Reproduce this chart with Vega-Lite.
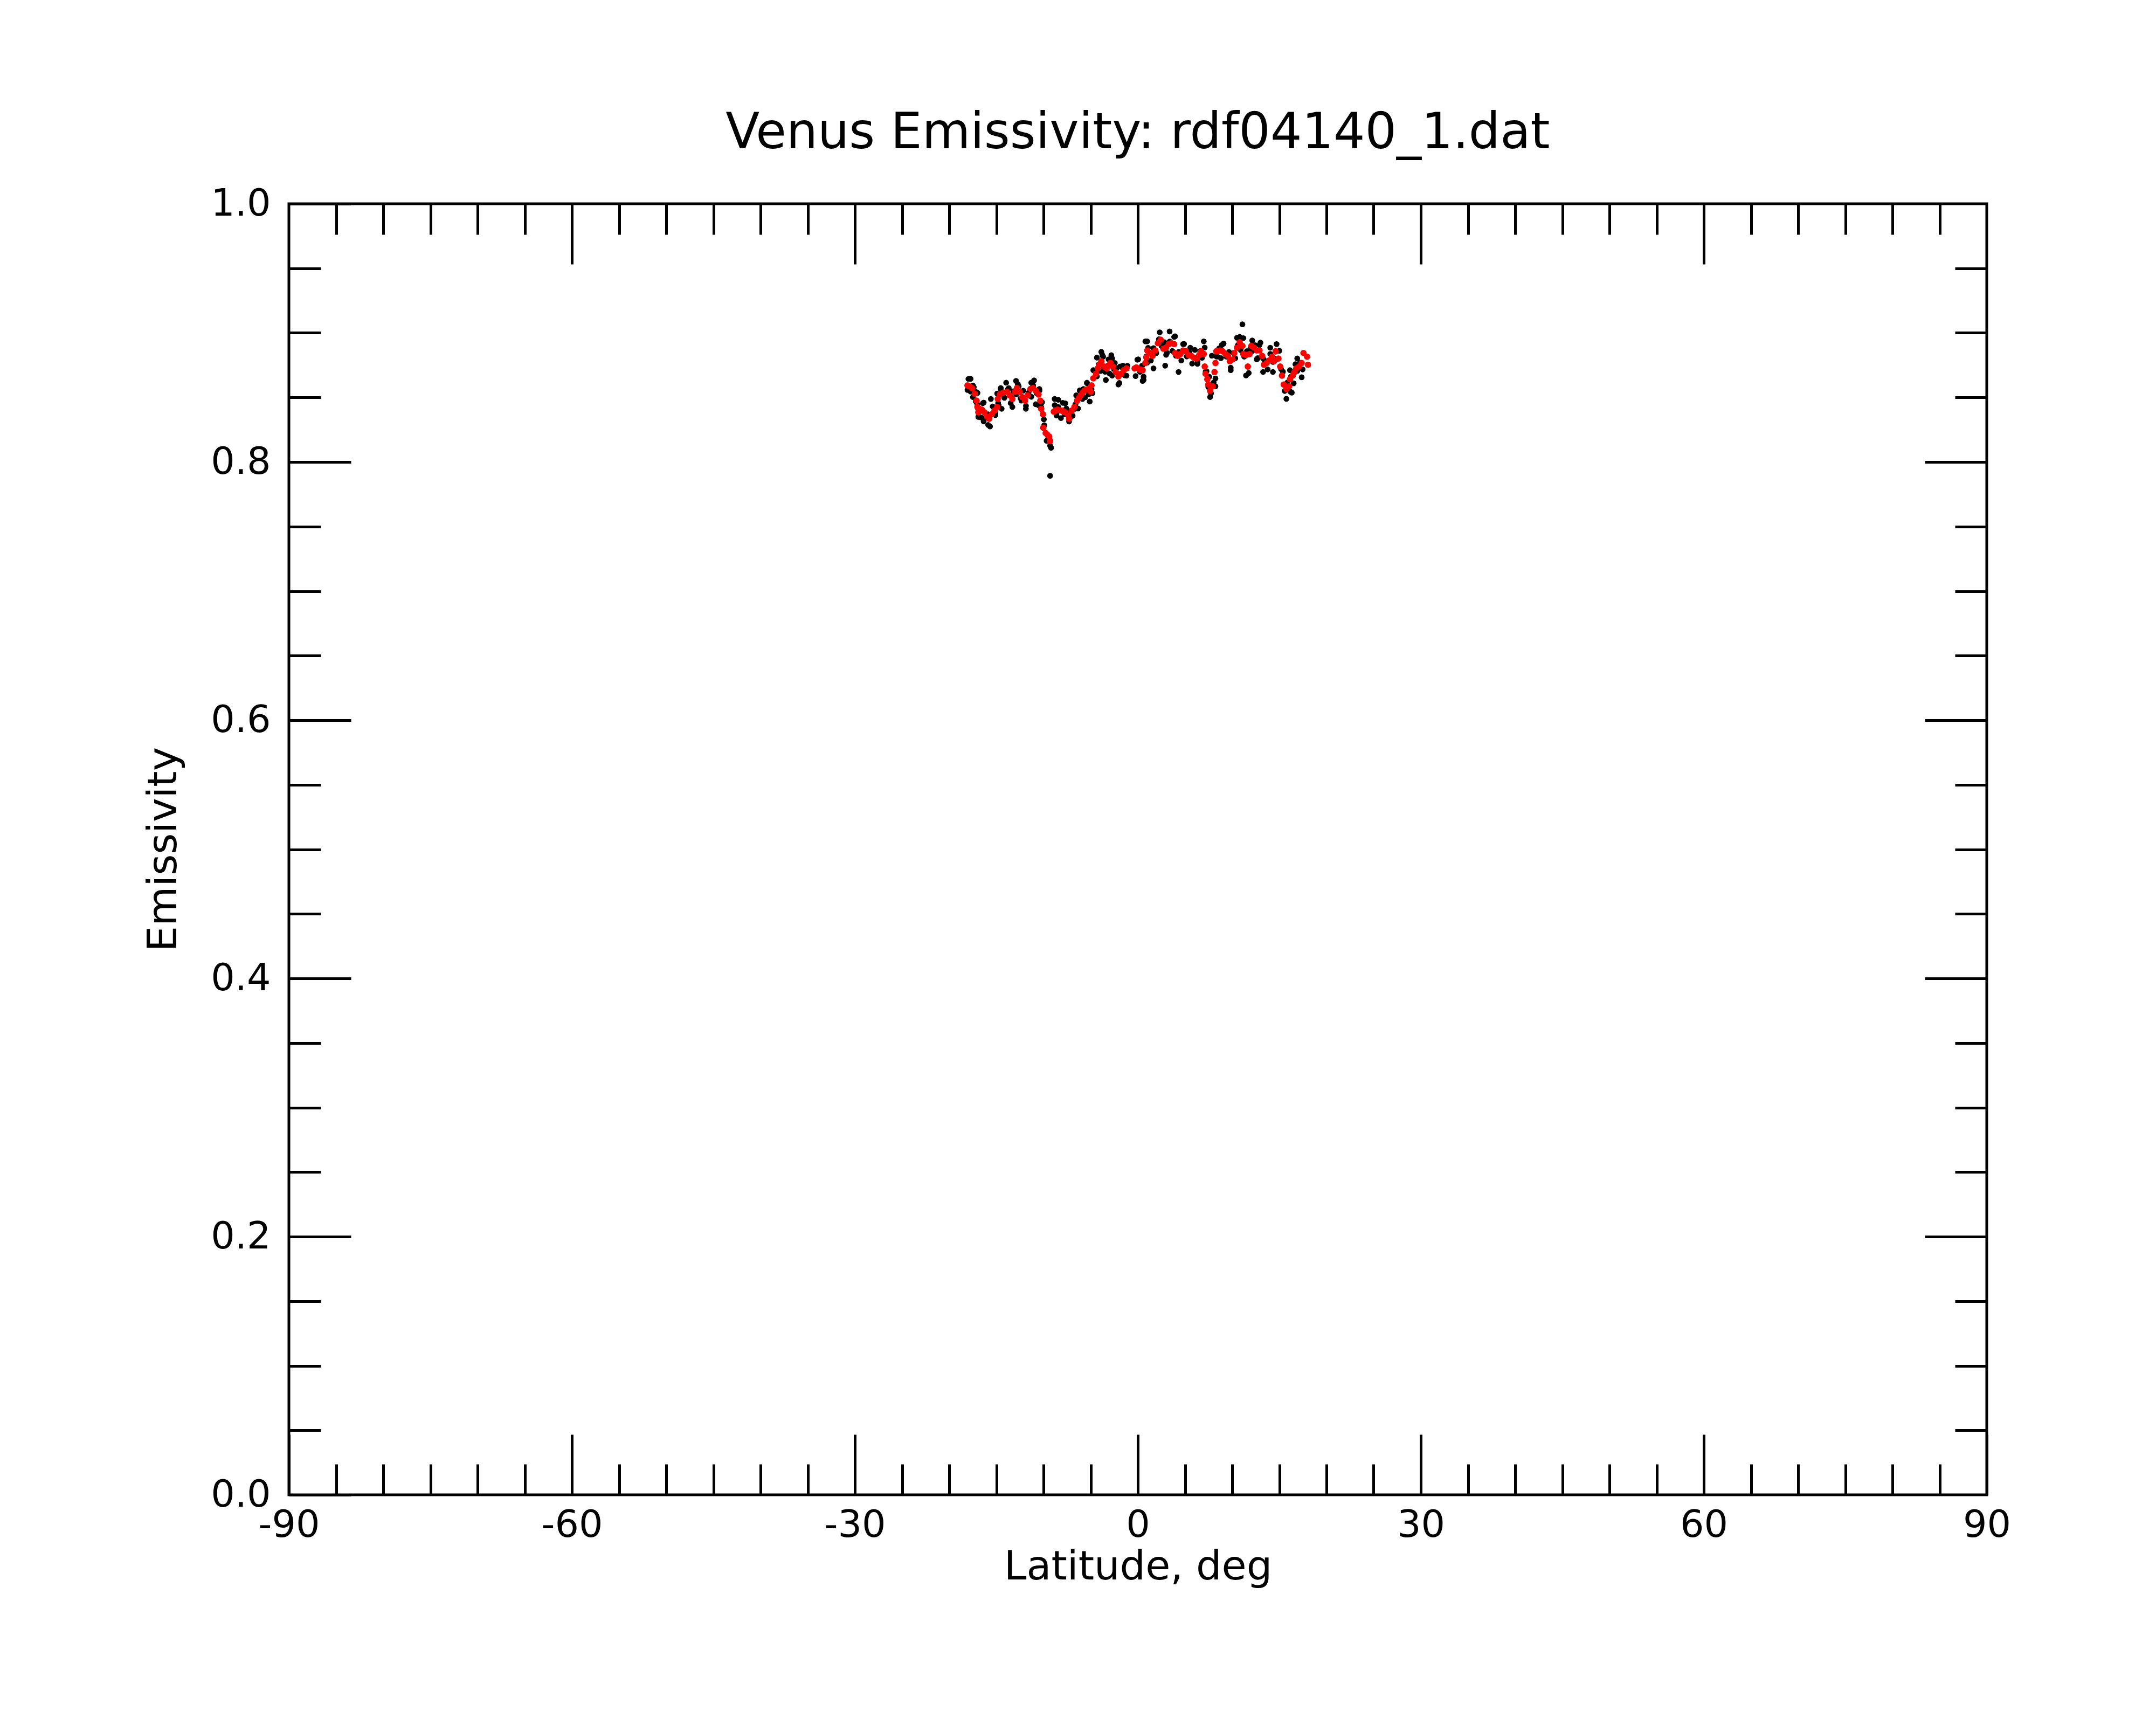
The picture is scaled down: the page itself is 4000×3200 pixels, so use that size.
{
  "$schema": "https://vega.github.io/schema/vega-lite/v6.json",
  "autosize": "none",
  "width": 3150,
  "height": 2395,
  "padding": {"left": 536, "top": 378, "right": 314, "bottom": 427},
  "background": "white",
  "view": {"stroke": "black", "strokeWidth": 5},
  "config": {
    "font": "DejaVu Sans",
    "axis": {"domain": false, "grid": false, "tickColor": "black", "tickWidth": 5, "labelColor": "black", "titleColor": "black", "labelFont": "DejaVu Sans", "titleFont": "DejaVu Sans", "labelFontSize": 70, "titleFontSize": 75, "titleFontWeight": "normal", "labelFlush": false, "labelOverlap": false}
  },
  "title": {"text": "Venus Emissivity: rdf04140_1.dat", "fontSize": 92, "fontWeight": "normal", "font": "DejaVu Sans", "color": "black", "anchor": "middle", "frame": "group", "baseline": "alphabetic", "offset": 95, "dy": 119},
  "datasets": {
    "raw": [
      {"lat": -17.96, "e": 0.8643}, {"lat": -17.72, "e": 0.8545}, {"lat": -17.48, "e": 0.8592}, {"lat": -17.19, "e": 0.847}, {"lat": -17.0, "e": 0.8535},
      {"lat": -16.91, "e": 0.8406}, {"lat": -16.81, "e": 0.8414}, {"lat": -16.62, "e": 0.8345}, {"lat": -16.43, "e": 0.8455}, {"lat": -16.15, "e": 0.8344},
      {"lat": -15.86, "e": 0.8369}, {"lat": -15.67, "e": 0.8275}, {"lat": -15.39, "e": 0.843}, {"lat": -15.1, "e": 0.8378}, {"lat": -14.81, "e": 0.8456},
      {"lat": -14.75, "e": 0.8438}, {"lat": -14.53, "e": 0.8573}, {"lat": -14.15, "e": 0.8497}, {"lat": -13.77, "e": 0.8564}, {"lat": -13.48, "e": 0.8456},
      {"lat": -13.2, "e": 0.8548}, {"lat": -12.91, "e": 0.8524}, {"lat": -12.72, "e": 0.8602}, {"lat": -12.43, "e": 0.8494}, {"lat": -12.15, "e": 0.8552},
      {"lat": -11.86, "e": 0.8435}, {"lat": -11.58, "e": 0.8536}, {"lat": -11.29, "e": 0.8505}, {"lat": -11.0, "e": 0.8632}, {"lat": -10.72, "e": 0.8531},
      {"lat": -10.43, "e": 0.8553}, {"lat": -10.24, "e": 0.8425}, {"lat": -10.15, "e": 0.8462}, {"lat": -9.96, "e": 0.833}, {"lat": -9.92, "e": 0.8285},
      {"lat": -9.67, "e": 0.8164}, {"lat": -9.48, "e": 0.819}, {"lat": -9.29, "e": 0.8166}, {"lat": -9.2, "e": 0.811}, {"lat": -8.81, "e": 0.844},
      {"lat": -8.62, "e": 0.836}, {"lat": -8.43, "e": 0.8425}, {"lat": -8.15, "e": 0.834}, {"lat": -7.96, "e": 0.8458}, {"lat": -7.77, "e": 0.837},
      {"lat": -7.58, "e": 0.8414}, {"lat": -7.29, "e": 0.8313}, {"lat": -7.19, "e": 0.8385}, {"lat": -6.91, "e": 0.8358}, {"lat": -6.62, "e": 0.8446},
      {"lat": -6.34, "e": 0.8414}, {"lat": -6.15, "e": 0.8555}, {"lat": -5.96, "e": 0.8496}, {"lat": -5.77, "e": 0.8565}, {"lat": -5.58, "e": 0.8501},
      {"lat": -5.39, "e": 0.861}, {"lat": -5.19, "e": 0.8525}, {"lat": -4.91, "e": 0.8564}, {"lat": -4.81, "e": 0.8533}, {"lat": -4.62, "e": 0.8708},
      {"lat": -4.34, "e": 0.8663}, {"lat": -4.15, "e": 0.8755}, {"lat": -3.96, "e": 0.8705}, {"lat": -3.77, "e": 0.883}, {"lat": -3.48, "e": 0.8699},
      {"lat": -3.2, "e": 0.8745}, {"lat": -3.0, "e": 0.8685}, {"lat": -2.81, "e": 0.8827}, {"lat": -2.53, "e": 0.8719}, {"lat": -2.24, "e": 0.8727},
      {"lat": -1.96, "e": 0.8612}, {"lat": -1.67, "e": 0.8733}, {"lat": -1.39, "e": 0.8671}, {"lat": -1.1, "e": 0.8745}, {"lat": -0.24, "e": 0.8665},
      {"lat": -0.05, "e": 0.8792}, {"lat": 0.23, "e": 0.8698}, {"lat": 0.45, "e": 0.8745}, {"lat": 0.61, "e": 0.8661}, {"lat": 0.9, "e": 0.8817},
      {"lat": 1.0, "e": 0.877}, {"lat": 1.09, "e": 0.8884}, {"lat": 1.38, "e": 0.8785}, {"lat": 1.66, "e": 0.8882}, {"lat": 1.95, "e": 0.8844},
      {"lat": 2.23, "e": 0.895}, {"lat": 2.52, "e": 0.8897}, {"lat": 2.81, "e": 0.8928}, {"lat": 3.09, "e": 0.8845}, {"lat": 3.38, "e": 0.8933},
      {"lat": 3.66, "e": 0.886}, {"lat": 3.95, "e": 0.8973}, {"lat": 4.04, "e": 0.8823}, {"lat": 4.33, "e": 0.8852}, {"lat": 4.61, "e": 0.8786},
      {"lat": 4.9, "e": 0.8914}, {"lat": 5.19, "e": 0.8817}, {"lat": 5.47, "e": 0.8849}, {"lat": 5.76, "e": 0.8762}, {"lat": 6.04, "e": 0.8868},
      {"lat": 6.33, "e": 0.8781}, {"lat": 6.61, "e": 0.8859}, {"lat": 6.81, "e": 0.8807}, {"lat": 7.09, "e": 0.8886}, {"lat": 7.19, "e": 0.8699},
      {"lat": 7.28, "e": 0.8703}, {"lat": 7.47, "e": 0.8581}, {"lat": 7.57, "e": 0.866}, {"lat": 7.76, "e": 0.8531}, {"lat": 8.04, "e": 0.8616},
      {"lat": 8.23, "e": 0.8647}, {"lat": 8.33, "e": 0.8817}, {"lat": 8.42, "e": 0.8817}, {"lat": 8.62, "e": 0.888}, {"lat": 8.81, "e": 0.8804},
      {"lat": 9.09, "e": 0.8917}, {"lat": 9.38, "e": 0.8816}, {"lat": 9.66, "e": 0.8852}, {"lat": 9.85, "e": 0.873}, {"lat": 10.14, "e": 0.8844},
      {"lat": 10.33, "e": 0.8803}, {"lat": 10.61, "e": 0.8905}, {"lat": 10.9, "e": 0.8867}, {"lat": 11.19, "e": 0.8959}, {"lat": 11.28, "e": 0.8816},
      {"lat": 11.57, "e": 0.8859}, {"lat": 11.76, "e": 0.8689}, {"lat": 11.95, "e": 0.8886}, {"lat": 12.14, "e": 0.8859}, {"lat": 12.43, "e": 0.8905},
      {"lat": 12.71, "e": 0.8804}, {"lat": 13.0, "e": 0.8924}, {"lat": 13.28, "e": 0.8802}, {"lat": 13.47, "e": 0.8783}, {"lat": 13.76, "e": 0.8717},
      {"lat": 14.04, "e": 0.8837}, {"lat": 14.33, "e": 0.8775}, {"lat": 14.52, "e": 0.88}, {"lat": 14.71, "e": 0.8797}, {"lat": 15.0, "e": 0.8861},
      {"lat": 15.19, "e": 0.8719}, {"lat": 15.38, "e": 0.8699}, {"lat": 15.57, "e": 0.855}, {"lat": 15.85, "e": 0.8615}, {"lat": 16.14, "e": 0.8546},
      {"lat": 16.23, "e": 0.8661}, {"lat": 16.52, "e": 0.8609}, {"lat": 16.71, "e": 0.8757}, {"lat": 16.9, "e": 0.8705}, {"lat": 17.19, "e": 0.8769},
      {"lat": 17.47, "e": 0.8717},
      {"lat": -17.73, "e": 0.8644}, {"lat": -18.06, "e": 0.8558}, {"lat": -17.39, "e": 0.8579}, {"lat": -17.2, "e": 0.8544}, {"lat": -17.48, "e": 0.8502},
      {"lat": -17.01, "e": 0.8447}, {"lat": -16.91, "e": 0.8349}, {"lat": -16.34, "e": 0.846}, {"lat": -16.34, "e": 0.8314}, {"lat": -15.87, "e": 0.8287},
      {"lat": -15.58, "e": 0.8488}, {"lat": -15.1, "e": 0.8363}, {"lat": -14.91, "e": 0.853}, {"lat": -14.53, "e": 0.8565}, {"lat": -14.44, "e": 0.8412},
      {"lat": -13.96, "e": 0.8614}, {"lat": -13.68, "e": 0.8572}, {"lat": -13.3, "e": 0.8426}, {"lat": -12.91, "e": 0.8628}, {"lat": -12.63, "e": 0.8586},
      {"lat": -12.34, "e": 0.8475}, {"lat": -11.87, "e": 0.8412}, {"lat": -11.3, "e": 0.8614}, {"lat": -11.1, "e": 0.8593}, {"lat": -10.44, "e": 0.8565},
      {"lat": -10.82, "e": 0.8447}, {"lat": -10.53, "e": 0.844}, {"lat": -9.39, "e": 0.8168}, {"lat": -9.3, "e": 0.7893}, {"lat": -9.3, "e": 0.8126},
      {"lat": -8.82, "e": 0.8488}, {"lat": -8.44, "e": 0.8482}, {"lat": -7.68, "e": 0.8454}, {"lat": -8.63, "e": 0.8377}, {"lat": -7.1, "e": 0.8349},
      {"lat": -6.82, "e": 0.8405}, {"lat": -6.53, "e": 0.8516}, {"lat": -6.15, "e": 0.8551}, {"lat": -5.87, "e": 0.8488}, {"lat": -5.39, "e": 0.8614},
      {"lat": -5.1, "e": 0.8468}, {"lat": -4.72, "e": 0.8711}, {"lat": -4.34, "e": 0.8808}, {"lat": -3.87, "e": 0.8853}, {"lat": -3.68, "e": 0.8815},
      {"lat": -3.39, "e": 0.8635}, {"lat": -3.1, "e": 0.8795}, {"lat": -2.72, "e": 0.8802}, {"lat": -2.44, "e": 0.8767}, {"lat": -2.72, "e": 0.8669},
      {"lat": -2.06, "e": 0.86}, {"lat": -1.87, "e": 0.874}, {"lat": -1.58, "e": 0.8746}, {"lat": -1.2, "e": 0.8669}, {"lat": 0.04, "e": 0.8795},
      {"lat": 0.51, "e": 0.8628}, {"lat": 0.8, "e": 0.8934}, {"lat": 0.99, "e": 0.8934}, {"lat": 0.61, "e": 0.8635}, {"lat": 1.66, "e": 0.8725},
      {"lat": 2.32, "e": 0.9004}, {"lat": 3.37, "e": 0.9011}, {"lat": 3.85, "e": 0.8969}, {"lat": 2.9, "e": 0.8746}, {"lat": 3.0, "e": 0.883},
      {"lat": 4.32, "e": 0.8697}, {"lat": 4.8, "e": 0.8913}, {"lat": 5.56, "e": 0.8885}, {"lat": 6.32, "e": 0.876}, {"lat": 6.99, "e": 0.8934},
      {"lat": 7.85, "e": 0.8823}, {"lat": 7.66, "e": 0.8503}, {"lat": 8.23, "e": 0.8586}, {"lat": 8.9, "e": 0.8906}, {"lat": 9.85, "e": 0.8711},
      {"lat": 10.52, "e": 0.8962}, {"lat": 11.09, "e": 0.9066}, {"lat": 10.8, "e": 0.8969}, {"lat": 12.13, "e": 0.8941}, {"lat": 12.9, "e": 0.8906},
      {"lat": 14.04, "e": 0.8885}, {"lat": 14.71, "e": 0.8913}, {"lat": 11.47, "e": 0.867}, {"lat": 13.28, "e": 0.8697}, {"lat": 14.32, "e": 0.8697},
      {"lat": 12.61, "e": 0.8795}, {"lat": 15.75, "e": 0.8489}, {"lat": 16.32, "e": 0.8537}, {"lat": 16.9, "e": 0.8802}, {"lat": 17.37, "e": 0.8656},
      {"lat": 16.13, "e": 0.8711}
    ],
    "smooth": [
      {"lat": -18.06, "e": 0.8593}, {"lat": -17.82, "e": 0.8585}, {"lat": -17.58, "e": 0.8572}, {"lat": -17.29, "e": 0.853}, {"lat": -17.1, "e": 0.8475},
      {"lat": -17.01, "e": 0.8426}, {"lat": -16.91, "e": 0.8384}, {"lat": -16.72, "e": 0.8395}, {"lat": -16.53, "e": 0.8405}, {"lat": -16.25, "e": 0.8384},
      {"lat": -15.96, "e": 0.8349}, {"lat": -15.77, "e": 0.8335}, {"lat": -15.49, "e": 0.837}, {"lat": -15.2, "e": 0.8398}, {"lat": -14.91, "e": 0.8426},
      {"lat": -14.85, "e": 0.8488}, {"lat": -14.63, "e": 0.8523}, {"lat": -14.25, "e": 0.8537}, {"lat": -13.87, "e": 0.8544}, {"lat": -13.58, "e": 0.8516},
      {"lat": -13.3, "e": 0.8488}, {"lat": -13.01, "e": 0.8544}, {"lat": -12.82, "e": 0.8572}, {"lat": -12.53, "e": 0.8544}, {"lat": -12.25, "e": 0.8502},
      {"lat": -11.96, "e": 0.8475}, {"lat": -11.68, "e": 0.8516}, {"lat": -11.39, "e": 0.8565}, {"lat": -11.1, "e": 0.8572}, {"lat": -10.82, "e": 0.8551},
      {"lat": -10.53, "e": 0.8523}, {"lat": -10.34, "e": 0.8475}, {"lat": -10.25, "e": 0.8412}, {"lat": -10.06, "e": 0.837},
      {"lat": -10.02, "e": 0.8265}, {"lat": -9.77, "e": 0.8224}, {"lat": -9.58, "e": 0.821}, {"lat": -9.39, "e": 0.8196}, {"lat": -9.3, "e": 0.816},
      {"lat": -8.91, "e": 0.839}, {"lat": -8.72, "e": 0.84}, {"lat": -8.53, "e": 0.8405}, {"lat": -8.25, "e": 0.84}, {"lat": -8.06, "e": 0.8398},
      {"lat": -7.87, "e": 0.839}, {"lat": -7.68, "e": 0.8384}, {"lat": -7.39, "e": 0.8363}, {"lat": -7.29, "e": 0.8335}, {"lat": -7.01, "e": 0.8398},
      {"lat": -6.72, "e": 0.8426}, {"lat": -6.44, "e": 0.8474}, {"lat": -6.25, "e": 0.8495}, {"lat": -6.06, "e": 0.8516}, {"lat": -5.87, "e": 0.8535},
      {"lat": -5.68, "e": 0.8551}, {"lat": -5.49, "e": 0.856}, {"lat": -5.29, "e": 0.8565}, {"lat": -5.01, "e": 0.8544}, {"lat": -4.91, "e": 0.8593},
      {"lat": -4.72, "e": 0.8648}, {"lat": -4.44, "e": 0.8683}, {"lat": -4.25, "e": 0.8725}, {"lat": -4.06, "e": 0.8755}, {"lat": -3.87, "e": 0.878},
      {"lat": -3.58, "e": 0.8739}, {"lat": -3.3, "e": 0.8725}, {"lat": -3.1, "e": 0.8745}, {"lat": -2.91, "e": 0.8767}, {"lat": -2.63, "e": 0.8739},
      {"lat": -2.34, "e": 0.8697}, {"lat": -2.06, "e": 0.8662}, {"lat": -1.77, "e": 0.8683}, {"lat": -1.49, "e": 0.8711}, {"lat": -1.2, "e": 0.8725},
      {"lat": -0.34, "e": 0.8725}, {"lat": -0.15, "e": 0.8732}, {"lat": 0.13, "e": 0.8718}, {"lat": 0.35, "e": 0.8715}, {"lat": 0.51, "e": 0.8711},
      {"lat": 0.8, "e": 0.8767}, {"lat": 0.9, "e": 0.881}, {"lat": 0.99, "e": 0.8864}, {"lat": 1.28, "e": 0.8845}, {"lat": 1.56, "e": 0.8822},
      {"lat": 1.85, "e": 0.8864}, {"lat": 2.13, "e": 0.892}, {"lat": 2.42, "e": 0.8947}, {"lat": 2.71, "e": 0.8878}, {"lat": 2.99, "e": 0.8885},
      {"lat": 3.28, "e": 0.8913}, {"lat": 3.56, "e": 0.892}, {"lat": 3.85, "e": 0.8913}, {"lat": 3.94, "e": 0.8843}, {"lat": 4.23, "e": 0.8822},
      {"lat": 4.51, "e": 0.8836}, {"lat": 4.8, "e": 0.8864}, {"lat": 5.09, "e": 0.8857}, {"lat": 5.37, "e": 0.8829}, {"lat": 5.66, "e": 0.8822},
      {"lat": 5.94, "e": 0.8808}, {"lat": 6.23, "e": 0.8801}, {"lat": 6.51, "e": 0.8829}, {"lat": 6.71, "e": 0.8857}, {"lat": 6.99, "e": 0.8836},
      {"lat": 7.09, "e": 0.8739}, {"lat": 7.18, "e": 0.8683}, {"lat": 7.37, "e": 0.8641}, {"lat": 7.47, "e": 0.86}, {"lat": 7.66, "e": 0.8551},
      {"lat": 7.94, "e": 0.8586}, {"lat": 8.13, "e": 0.8697}, {"lat": 8.23, "e": 0.8767}, {"lat": 8.32, "e": 0.8857}, {"lat": 8.52, "e": 0.886},
      {"lat": 8.71, "e": 0.8864}, {"lat": 8.99, "e": 0.8857}, {"lat": 9.28, "e": 0.8836}, {"lat": 9.56, "e": 0.8822}, {"lat": 9.75, "e": 0.878},
      {"lat": 10.04, "e": 0.8794}, {"lat": 10.23, "e": 0.8843}, {"lat": 10.51, "e": 0.8885}, {"lat": 10.8, "e": 0.8927}, {"lat": 11.09, "e": 0.8899},
      {"lat": 11.18, "e": 0.8836}, {"lat": 11.47, "e": 0.8829}, {"lat": 11.66, "e": 0.8739}, {"lat": 11.85, "e": 0.8836}, {"lat": 12.04, "e": 0.8899},
      {"lat": 12.33, "e": 0.8885}, {"lat": 12.61, "e": 0.8864}, {"lat": 12.9, "e": 0.8864}, {"lat": 13.18, "e": 0.8822}, {"lat": 13.37, "e": 0.8753},
      {"lat": 13.66, "e": 0.8767}, {"lat": 13.94, "e": 0.8787}, {"lat": 14.23, "e": 0.8815}, {"lat": 14.42, "e": 0.878}, {"lat": 14.61, "e": 0.8857},
      {"lat": 14.9, "e": 0.8801}, {"lat": 15.09, "e": 0.8739}, {"lat": 15.28, "e": 0.8669}, {"lat": 15.47, "e": 0.86}, {"lat": 15.75, "e": 0.8565},
      {"lat": 16.04, "e": 0.8586}, {"lat": 16.13, "e": 0.8641}, {"lat": 16.42, "e": 0.8669}, {"lat": 16.61, "e": 0.8697}, {"lat": 16.8, "e": 0.8725},
      {"lat": 17.09, "e": 0.8739}, {"lat": 17.37, "e": 0.8767}, {"lat": 17.56, "e": 0.8844}, {"lat": 17.94, "e": 0.8816}, {"lat": 18.04, "e": 0.8753}
    ]
  },
  "layer": [
    {
      "data": {"name": "raw"},
      "mark": {"type": "circle", "color": "black", "opacity": 1, "size": 115},
      "encoding": {
        "x": {"field": "lat", "type": "quantitative", "scale": {"domain": [-90, 90], "nice": false, "zero": false},
          "axis": {"orient": "bottom", "values": [-90, -60, -30, 0, 30, 60, 90], "labelExpr": "datum.value < 0 ? '-' + abs(datum.value) : '' + datum.value", "tickSize": -112, "labelPadding": 134, "title": "Latitude, deg", "titleY": 156, "titleBaseline": "alphabetic"}},
        "y": {"field": "e", "type": "quantitative", "scale": {"domain": [0, 1], "nice": false, "zero": false},
          "axis": {"orient": "left", "values": [0, 0.2, 0.4, 0.6, 0.8, 1], "format": ".1f", "tickSize": -115, "labelPadding": 149, "title": "Emissivity", "titleX": -210, "titleY": 1197, "titleBaseline": "alphabetic", "titleAngle": -90}}
      }
    },
    {
      "data": {"name": "smooth"},
      "mark": {"type": "circle", "color": "#ff0000", "opacity": 1, "size": 140},
      "encoding": {
        "x": {"field": "lat", "type": "quantitative",
          "axis": {"orient": "bottom", "values": [-85, -80, -75, -70, -65, -55, -50, -45, -40, -35, -25, -20, -15, -10, -5, 5, 10, 15, 20, 25, 35, 40, 45, 50, 55, 65, 70, 75, 80, 85], "tickSize": -57, "labels": false, "title": null}},
        "y": {"field": "e", "type": "quantitative",
          "axis": {"orient": "left", "values": [0.05, 0.1, 0.15, 0.25, 0.3, 0.35, 0.45, 0.5, 0.55, 0.65, 0.7, 0.75, 0.85, 0.9, 0.95], "tickSize": -59, "labels": false, "title": null}}
      }
    },
    {
      "data": {"name": "raw"},
      "mark": {"type": "circle", "opacity": 0},
      "encoding": {
        "x": {"field": "lat", "type": "quantitative",
          "axis": {"orient": "top", "values": [-60, -30, 0, 30, 60], "tickSize": -112, "labels": false, "title": null}},
        "y": {"field": "e", "type": "quantitative",
          "axis": {"orient": "right", "values": [0.2, 0.4, 0.6, 0.8], "tickSize": -115, "labels": false, "title": null}}
      }
    },
    {
      "data": {"name": "raw"},
      "mark": {"type": "circle", "opacity": 0},
      "encoding": {
        "x": {"field": "lat", "type": "quantitative",
          "axis": {"orient": "top", "values": [-85, -80, -75, -70, -65, -55, -50, -45, -40, -35, -25, -20, -15, -10, -5, 5, 10, 15, 20, 25, 35, 40, 45, 50, 55, 65, 70, 75, 80, 85], "tickSize": -57, "labels": false, "title": null}},
        "y": {"field": "e", "type": "quantitative",
          "axis": {"orient": "right", "values": [0.05, 0.1, 0.15, 0.25, 0.3, 0.35, 0.45, 0.5, 0.55, 0.65, 0.7, 0.75, 0.85, 0.9, 0.95], "tickSize": -59, "labels": false, "title": null}}
      }
    }
  ],
  "resolve": {"axis": {"x": "independent", "y": "independent"}}
}
